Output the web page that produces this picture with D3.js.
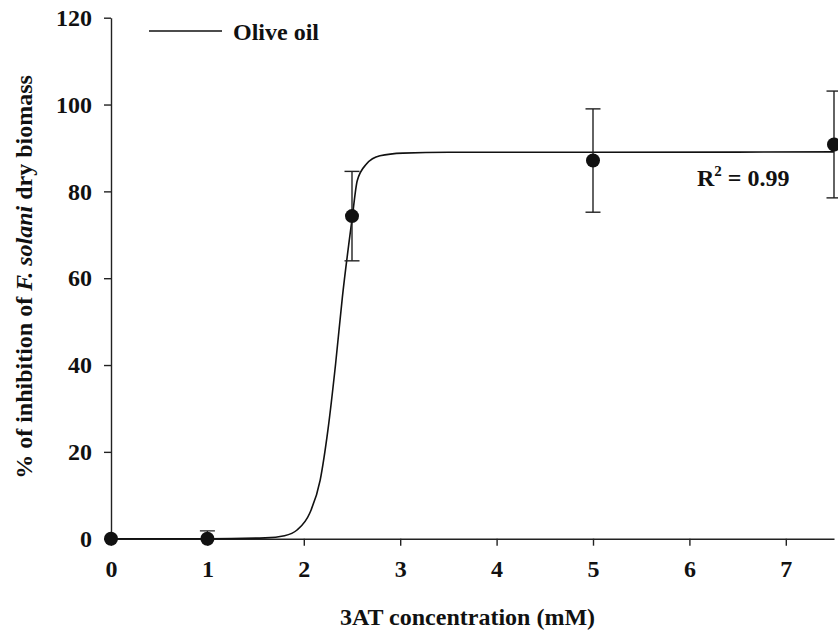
<!DOCTYPE html>
<html>
<head>
<meta charset="utf-8">
<script src="https://cdn.jsdelivr.net/npm/d3@7"></script>
<style>
  body { margin: 0; background: #fff; }
  svg text { font-family: "Liberation Serif", "Times New Roman", serif; font-weight: bold; fill: #111; }
</style>
</head>
<body>
<svg></svg>
<script>
// measured points (mean and SD)
var conc = [0, 1, 2.5, 5, 7.5];
var inhibition = [0, 0, 74.3, 87.1, 90.8];
var sd = [0, 1.8, 10.3, 11.9, 12.3];

// fitted sigmoid curve
var fitX = [0, 1, 1.6, 1.8, 1.93, 2.06, 2.17, 2.25, 2.33, 2.40, 2.50, 2.555, 2.65, 2.79, 3.03, 3.5, 5, 7.5];
var fitY = [0, 0, 0.2, 0.7, 2.0, 5.8, 13.5, 25, 40.3, 55.6, 73.5, 82.5, 86.3, 88.2, 88.8, 89, 89, 89.1];

var xTicks = [0, 1, 2, 3, 4, 5, 6, 7];
var yTicks = [0, 20, 40, 60, 80, 100, 120];

var W = 838, H = 632;
var margin = {top: 17.7, right: 4, bottom: 93.3, left: 111};
var width = W - margin.left - margin.right;
var height = H - margin.top - margin.bottom;

var svg = d3.select('svg').attr('width', W).attr('height', H);

svg.append('defs').append('clipPath').attr('id', 'plotclip')
    .append('rect').attr('x', -margin.left).attr('y', -margin.top)
    .attr('width', W).attr('height', height + margin.top);

var g = svg.append('g').attr('transform', `translate(${margin.left},${margin.top})`);

var x = d3.scaleLinear().domain([0, 7.5]).range([0, width]);
var y = d3.scaleLinear().domain([0, 120]).range([height, 0]);

// axes
var xAxis = g.append('g')
    .attr('transform', `translate(0,${height})`)
    .call(d3.axisBottom(x).tickValues(xTicks).tickSize(7).tickPadding(14).tickSizeOuter(0));
var yAxis = g.append('g')
    .call(d3.axisLeft(y).tickValues(yTicks).tickSize(7).tickPadding(12).tickSizeOuter(0));

[xAxis, yAxis].forEach(function (a) {
    a.selectAll('path, line').attr('stroke', '#222').attr('stroke-width', 1.4);
    a.selectAll('text').style('font-size', '24px').attr('fill', '#111')
        .style('font-family', '"Liberation Serif", "Times New Roman", serif').style('font-weight', 'bold');
});

// fitted curve
var fit = fitX.map(function (v, i) { return {x: v, y: fitY[i]}; });
g.append('path')
    .datum(fit)
    .attr('fill', 'none')
    .attr('stroke', '#111')
    .attr('stroke-width', 1.6)
    .attr('d', d3.line().x(d => x(d.x)).y(d => y(d.y)).curve(d3.curveMonotoneX));

// error bars
var pts = conc.map(function (v, i) { return {x: v, y: inhibition[i], e: sd[i]}; });
var eb = g.append('g').attr('clip-path', 'url(#plotclip)')
    .selectAll('g').data(pts.filter(d => d.e > 0)).enter().append('g')
    .attr('stroke', '#222').attr('stroke-width', 1.4);
eb.append('line')
    .attr('x1', d => x(d.x)).attr('x2', d => x(d.x))
    .attr('y1', d => y(d.y - d.e)).attr('y2', d => y(d.y + d.e));
eb.append('line')
    .attr('x1', d => x(d.x) - 7.5).attr('x2', d => x(d.x) + 7.5)
    .attr('y1', d => y(d.y + d.e)).attr('y2', d => y(d.y + d.e));
eb.append('line')
    .attr('x1', d => x(d.x) - 7.5).attr('x2', d => x(d.x) + 7.5)
    .attr('y1', d => y(d.y - d.e)).attr('y2', d => y(d.y - d.e));

// points
g.selectAll('.pt')
    .data(pts)
    .enter()
    .append('circle')
    .attr('class', 'pt')
    .attr('cx', d => x(d.x))
    .attr('cy', d => y(d.y))
    .attr('r', 7)
    .attr('fill', '#111');

// legend
svg.append('line')
    .attr('x1', 149).attr('x2', 222)
    .attr('y1', 31).attr('y2', 31)
    .attr('stroke', '#111').attr('stroke-width', 1.5);
svg.append('text')
    .attr('x', 233).attr('y', 40)
    .style('font-size', '24px')
    .text('Olive oil');

// R squared
var r2 = svg.append('text')
    .attr('x', 697).attr('y', 186)
    .style('font-size', '24px');
r2.append('tspan').text('R');
r2.append('tspan').attr('dy', -10).style('font-size', '15px').text('2');
r2.append('tspan').attr('dy', 10).text(' = 0.99');

// axis titles
svg.append('text')
    .attr('x', margin.left + x(3.75) - 5)
    .attr('y', 625)
    .attr('text-anchor', 'middle')
    .style('font-size', '24px')
    .text('3AT concentration (mM)');

var yt = svg.append('text')
    .attr('transform', 'translate(32,277) rotate(-90)')
    .attr('text-anchor', 'middle')
    .style('font-size', '24px');
yt.append('tspan').text('% of inhibition of ');
yt.append('tspan').style('font-style', 'italic').text('F. solani');
yt.append('tspan').text(' dry biomass');
</script>
</body>
</html>
